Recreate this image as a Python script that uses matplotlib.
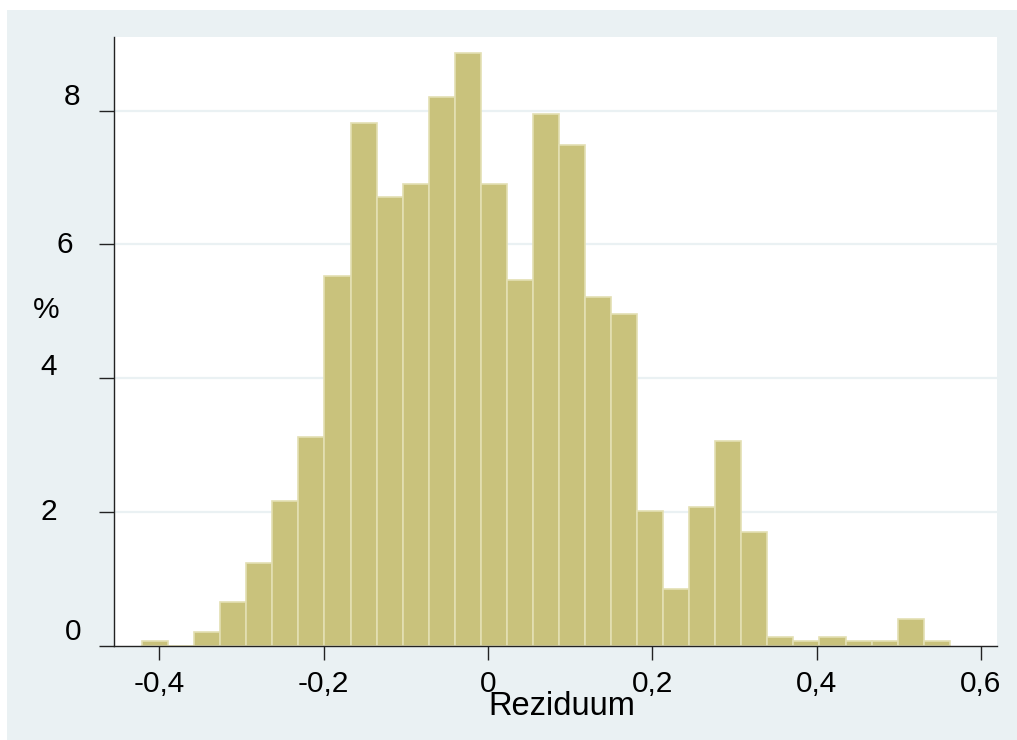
import numpy as np
import matplotlib
matplotlib.use("Agg")
import matplotlib.pyplot as plt
from matplotlib.patches import Rectangle
from matplotlib.transforms import offset_copy

# Histogram of regression residuals (percent of observations per bin)
bin_start = -0.421
bin_width = 0.03171
percent = [0.07, 0.0, 0.21, 0.66, 1.24, 2.16, 3.12, 5.53, 7.82, 6.71,
           6.91, 8.21, 8.86, 6.91, 5.47, 7.95, 7.49, 5.22, 4.96, 2.02,
           0.85, 2.08, 3.06, 1.70, 0.14, 0.07, 0.14, 0.07, 0.07, 0.40,
           0.07]
x_ticks = [-0.4, -0.2, 0.0, 0.2, 0.4, 0.6]
x_tick_labels = ["-0,4", "-0,2", "0", "0,2", "0,4", "0,6"]
y_ticks = [0, 2, 4, 6, 8]
y_tick_labels = ["0", "2", "4", "6", "8"]
x_title = "Reziduum"
y_title = "%"

# Hand-placed y labels: (right edge left of the axis, vertical shift) in px
y_label_shift_px = [(33, 14), (57, 0), (57, 11), (41, -1), (34, 14)]

plt.rcParams["font.family"] = ["Liberation Sans", "DejaVu Sans"]

W, H = 1017, 740
fig = plt.figure(figsize=(W / 100, H / 100), dpi=100, facecolor="white")

# Light graph-region backdrop
fig.patches.append(Rectangle((7 / W, 0), 1 - 7 / W, 1 - 10 / H,
                             transform=fig.transFigure, facecolor="#EAF1F3",
                             edgecolor="none", zorder=-10))

ax = fig.add_axes([114 / W, (H - 646) / H, (997 - 114) / W, (646 - 37) / H])
ax.set_facecolor("white")

edges = bin_start + bin_width * np.arange(len(percent) + 1)
ax.bar(edges[:-1], percent, width=bin_width, align="edge",
       color="#C9C27C", edgecolor="#E3DFB3", linewidth=1.2, zorder=3)

ax.set_xlim(-0.4552, 0.6195)
ax.set_ylim(0, 9.10)

ax.set_xticks(x_ticks)
ax.set_xticklabels(x_tick_labels)
ax.set_yticks(y_ticks)

for y in y_ticks[1:]:
    ax.axhline(y, color="#EAF1F3", linewidth=1.6, zorder=1)

for side in ("top", "right"):
    ax.spines[side].set_visible(False)
for side in ("left", "bottom"):
    ax.spines[side].set_color("#222222")
    ax.spines[side].set_linewidth(1.0)
    ax.spines[side].set_zorder(4)

ax.tick_params(axis="x", length=10, width=1.0, color="#222222",
               labelsize=21.5, pad=7)
ax.tick_params(axis="y", length=11, width=1.0, color="#222222",
               labelleft=False)

ytrans = ax.get_yaxis_transform()
for val, lab, (dx, dy) in zip(y_ticks, y_tick_labels, y_label_shift_px):
    tr = offset_copy(ytrans, fig=fig, x=-dx, y=dy, units="dots")
    ax.text(0, val, lab, transform=tr, fontsize=21.5, ha="right",
            va="center", clip_on=False)

fig.text(46 / W, 1 - 310 / H, y_title, fontsize=21.5, ha="center",
         va="center")
fig.text(562 / W, 1 - 715 / H, x_title, fontsize=23.5, ha="center",
         va="baseline")

fig.savefig("out.png", dpi=100, facecolor=fig.get_facecolor())
